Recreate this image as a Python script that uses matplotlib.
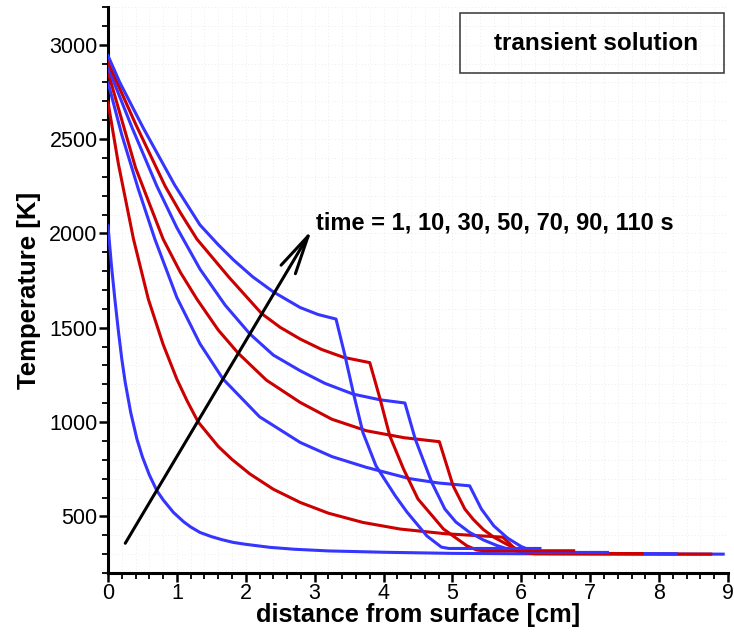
import matplotlib.pyplot as plt
from matplotlib.patches import FancyArrowPatch, Rectangle
from matplotlib.ticker import MultipleLocator

plt.rcParams['font.family'] = ['Liberation Sans', 'DejaVu Sans']

# temperature profiles (x in cm, T in K)
times = [1, 10, 30, 50, 70, 90, 110]

x_t1 = [0, 0.05, 0.1, 0.15, 0.2, 0.25, 0.33, 0.42, 0.5, 0.6, 0.71, 0.8, 0.95, 1.1,
        1.2, 1.335, 1.5, 1.65, 1.82, 2.0, 2.35, 2.7, 3.2, 4.0, 5.0, 6.0, 7.0, 8.93]
T_t1 = [2040, 1830, 1650, 1485, 1335, 1210, 1050, 910, 815, 720, 636, 588, 521, 471,
        444, 415, 393, 377, 362, 352, 336, 326, 317, 310, 304, 302, 301, 300]

x_t10 = [0, 0.15, 0.37, 0.585, 0.8, 1.0, 1.15, 1.31, 1.6, 1.8, 2.06, 2.4, 2.79, 3.2,
         3.7, 4.24, 4.9, 5.73, 5.82, 5.9, 6.0, 6.2, 8.75]
T_t10 = [2695, 2370, 1970, 1652, 1412, 1227, 1111, 1000, 871, 802, 725, 644, 574, 517,
         468, 433, 408, 390, 360, 330, 310, 302, 300]

x_t30 = [0, 0.2, 0.44, 0.68, 1.0, 1.335, 1.67, 2.2, 2.79, 3.25, 3.75, 4.38, 4.8,
         5.25, 5.42, 5.6, 5.8, 6.0, 6.15, 6.3, 8.25]
T_t30 = [2800, 2523, 2235, 1970, 1660, 1415, 1228, 1028, 892, 817, 760, 700, 677,
         662, 539, 450, 385, 340, 318, 305, 302]

x_t50 = [0, 0.4, 0.8, 1.05, 1.29, 1.6, 1.89, 2.3, 2.79, 3.25, 3.75, 4.3, 4.81,
         5.01, 5.18, 5.3, 5.45, 5.6, 5.8, 5.95, 6.1, 6.3, 7.75]
T_t50 = [2855, 2348, 1970, 1794, 1652, 1488, 1365, 1222, 1104, 1015, 954, 917, 896,
         662, 539, 485, 430, 390, 350, 325, 310, 304, 303]

x_t70 = [0, 0.35, 0.71, 1.0, 1.335, 1.7, 2.06, 2.4, 2.79, 3.15, 3.56, 3.95, 4.31,
         4.46, 4.70, 4.89, 5.05, 5.25, 5.45, 5.65, 5.85, 6.0, 6.2, 7.25]
T_t70 = [2880, 2560, 2250, 2030, 1811, 1620, 1467, 1355, 1272, 1205, 1148, 1118, 1101,
         910, 680, 539, 470, 415, 375, 345, 322, 312, 309, 309]

x_t90 = [0, 0.4, 0.83, 1.05, 1.29, 1.75, 2.23, 2.5, 2.79, 3.1, 3.42, 3.80, 3.95, 4.09,
         4.29, 4.50, 4.87, 5.21, 5.35, 5.45, 6.76]
T_t90 = [2907, 2580, 2250, 2110, 1970, 1770, 1575, 1502, 1440, 1385, 1343, 1315, 1122,
         927, 751, 592, 433, 344, 322, 318, 318]

x_t110 = [0, 0.17, 0.51, 0.97, 1.335, 1.6, 1.82, 2.1, 2.4, 2.79, 3.05, 3.31, 3.44, 3.56,
          3.70, 3.89, 4.17, 4.34, 4.63, 4.84, 4.95, 6.27]
T_t110 = [2942, 2801, 2560, 2255, 2045, 1940, 1860, 1770, 1690, 1607, 1570, 1546, 1352,
          1157, 945, 768, 609, 523, 396, 337, 330, 330]

# arrow showing increasing time
arrow_start = (0.23, 345)
arrow_end = (2.98, 2032)
time_label = "time = 1, 10, 30, 50, 70, 90, 110 s"

blue = '#3535ff'
red = '#cc0000'

fig = plt.figure(figsize=(7.34, 6.32), dpi=100)
ax = fig.add_axes([108/734, 1 - 573/632, 620/734, 566/632])

profiles = [(x_t1, T_t1), (x_t10, T_t10), (x_t30, T_t30), (x_t50, T_t50),
            (x_t70, T_t70), (x_t90, T_t90), (x_t110, T_t110)]
for i, (xs, ts) in enumerate(profiles):
    c = blue if i % 2 == 0 else red
    ax.plot(xs, ts, color=c, lw=2.2, zorder=3 + i)

ax.set_xlim(0, 9)
ax.set_ylim(200, 3200)
ax.xaxis.set_major_locator(MultipleLocator(1))
ax.xaxis.set_minor_locator(MultipleLocator(0.2))
ax.yaxis.set_major_locator(MultipleLocator(500))
ax.yaxis.set_minor_locator(MultipleLocator(100))
ax.set_yticks([500, 1000, 1500, 2000, 2500, 3000])

for s in ['top', 'right']:
    ax.spines[s].set_visible(False)
for s in ['left', 'bottom']:
    ax.spines[s].set_linewidth(2.2)

ax.tick_params(which='major', direction='out', length=6.5, width=1.8,
               labelsize=15.5, pad=1)
ax.tick_params(which='minor', direction='out', length=4.3, width=1.3)
ax.grid(which='both', color='#e6e6e6', linestyle=(0, (1, 3)), lw=0.6)
ax.set_axisbelow(True)

ax.set_xlabel("distance from surface [cm]", fontsize=18.3, fontweight='bold', labelpad=-1)
ax.set_ylabel("Temperature [K]", fontsize=18.5, fontweight='bold', labelpad=6)

arr = FancyArrowPatch(arrow_start, arrow_end,
                      arrowstyle='->,head_length=28,head_width=6',
                      mutation_scale=1, color='black', lw=2.2, zorder=12)
ax.add_patch(arr)
ax.text(3.02, 2055, time_label, fontsize=17, fontweight='bold',
        ha='left', va='center', zorder=13)

# boxed title in the upper right
fig.patches.append(Rectangle((460/734, 1 - 73/632), 264/734, 60/632,
                             transform=fig.transFigure, fill=False,
                             edgecolor='#444444', lw=1.2))
fig.text(596/734, 1 - 43/632, "transient solution", fontsize=17.5,
         fontweight='bold', ha='center', va='center')

fig.savefig("out.png", dpi=100)
